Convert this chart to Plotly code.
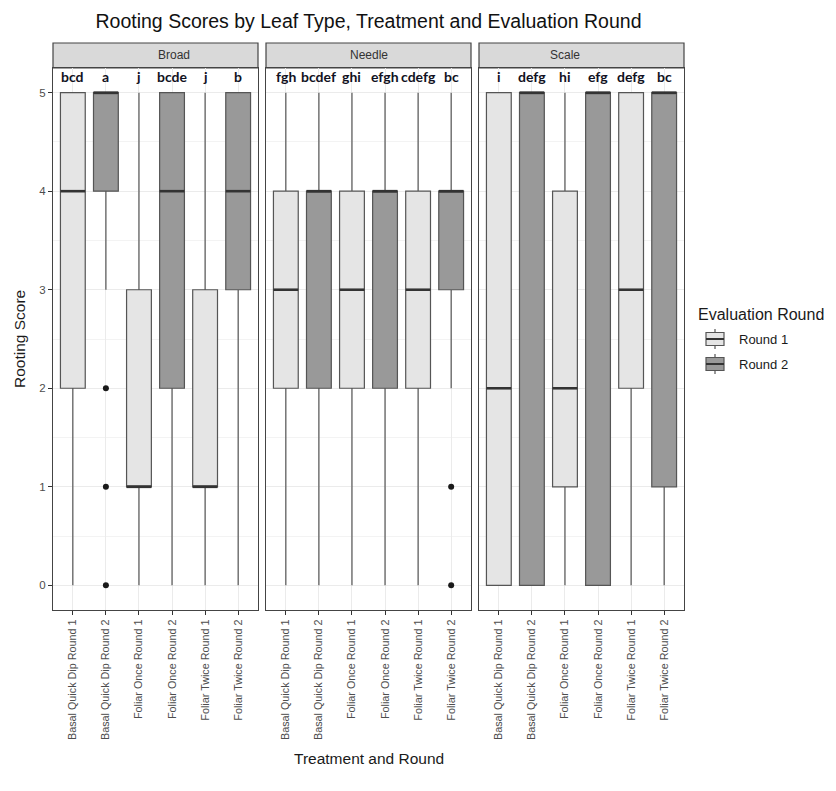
import plotly.graph_objects as go

# ---------------- data ----------------
categories = ["Basal Quick Dip Round 1", "Basal Quick Dip Round 2",
              "Foliar Once Round 1", "Foliar Once Round 2",
              "Foliar Twice Round 1", "Foliar Twice Round 2"]
rounds = ["Round 1", "Round 2", "Round 1", "Round 2", "Round 1", "Round 2"]
round_levels = ["Round 1", "Round 2"]
leaf_types = ["Broad", "Needle", "Scale"]

broad_lower = [0, 3, 0, 0, 0, 0]
broad_q1 = [2, 4, 1, 2, 1, 3]
broad_median = [4, 5, 1, 4, 1, 4]
broad_q3 = [5, 5, 3, 5, 3, 5]
broad_upper = [5, 5, 5, 5, 5, 5]
broad_letters = ["bcd", "a", "j", "bcde", "j", "b"]
broad_outliers = {1: [2, 1, 0]}

needle_lower = [0, 0, 0, 0, 0, 2]
needle_q1 = [2, 2, 2, 2, 2, 3]
needle_median = [3, 4, 3, 4, 3, 4]
needle_q3 = [4, 4, 4, 4, 4, 4]
needle_upper = [5, 5, 5, 5, 5, 5]
needle_letters = ["fgh", "bcdef", "ghi", "efgh", "cdefg", "bc"]
needle_outliers = {5: [1, 0]}

scale_lower = [0, 0, 0, 0, 0, 0]
scale_q1 = [0, 0, 1, 0, 2, 1]
scale_median = [2, 5, 2, 5, 3, 5]
scale_q3 = [5, 5, 4, 5, 5, 5]
scale_upper = [5, 5, 5, 5, 5, 5]
scale_letters = ["i", "defg", "hi", "efg", "defg", "bc"]
scale_outliers = {}

y_ticks = [0, 1, 2, 3, 4, 5]

panels = [
    (broad_lower, broad_q1, broad_median, broad_q3, broad_upper, broad_letters, broad_outliers),
    (needle_lower, needle_q1, needle_median, needle_q3, needle_upper, needle_letters, needle_outliers),
    (scale_lower, scale_q1, scale_median, scale_q3, scale_upper, scale_letters, scale_outliers),
]

fill_colors = {"Round 1": "#e5e5e5", "Round 2": "#999999"}
line_col = "#555555"
box_w = 0.75

# ---------------- layout geometry ----------------
W, H = 836, 791
ml, mr, mt, mb = 45, 160, 35, 189
pw = W - ml - mr
ph = H - mt - mb
strip_h = 25
ytop = (ph - strip_h) / ph
px_panels = [(0, 205), (213, 418), (426, 631)]
domains = [[a / pw, b / pw] for a, b in px_panels]


def px_x(x):
    return (x - ml) / pw


def px_y(y):
    return 1 - (y - mt) / ph


fig = go.Figure()
positions = list(range(1, len(categories) + 1))
shapes = []
annotations = []

for p, (lo, q1, med, q3, up, letters, outl) in enumerate(panels):
    ax = "" if p == 0 else str(p + 1)
    for rnd in round_levels:
        idx = [i for i, r in enumerate(rounds) if r == rnd]
        fig.add_trace(go.Box(
            x=[positions[i] for i in idx],
            q1=[q1[i] for i in idx], median=[med[i] for i in idx], q3=[q3[i] for i in idx],
            lowerfence=[lo[i] for i in idx], upperfence=[up[i] for i in idx],
            width=box_w, whiskerwidth=0,
            fillcolor=fill_colors[rnd], line=dict(color=line_col, width=1.2),
            name=rnd, showlegend=False,
            xaxis="x" + ax, yaxis="y" + ax, hoverinfo="skip",
        ))
    # thick median lines
    for i in range(len(categories)):
        shapes.append(dict(type="line", xref="x" + ax, yref="y" + ax,
                           x0=positions[i] - box_w / 2, x1=positions[i] + box_w / 2,
                           y0=med[i], y1=med[i], line=dict(color="#333333", width=2.6)))
    # outliers
    ox, oy = [], []
    for i, vals in outl.items():
        for v in vals:
            ox.append(positions[i])
            oy.append(v)
    if ox:
        fig.add_trace(go.Scatter(x=ox, y=oy, mode="markers",
                                 marker=dict(color="#1a1a1a", size=6),
                                 showlegend=False, xaxis="x" + ax, yaxis="y" + ax,
                                 hoverinfo="skip"))
    # letters
    for i, lt in enumerate(letters):
        annotations.append(dict(x=positions[i], y=5.16, xref="x" + ax, yref="y" + ax,
                                text="<b>%s</b>" % lt, showarrow=False,
                                font=dict(family="Lato", size=14, color="#111122"),
                                yanchor="middle"))
    # strip
    shapes.append(dict(type="rect", xref="paper", yref="paper",
                       x0=domains[p][0], x1=domains[p][1], y0=ytop, y1=1,
                       fillcolor="#d9d9d9", line=dict(color="#444444", width=1.2), layer="below"))
    annotations.append(dict(x=(domains[p][0] + domains[p][1]) / 2, y=(ytop + 1) / 2,
                            xref="paper", yref="paper", text=leaf_types[p], showarrow=False,
                            font=dict(family="Liberation Sans", size=12, color="#333333"),
                            yanchor="middle"))

    xaxis = dict(domain=domains[p], range=[0.4, 6.6], anchor="y" + ax,
                 tickmode="array", tickvals=positions, ticktext=categories, tickangle=-90,
                 tickfont=dict(family="Liberation Sans", size=10.8, color="#4d4d4d"),
                 ticks="outside", ticklen=4, tickcolor="#333333",
                 showgrid=True, gridcolor="#ebebeb", gridwidth=1,
                 showline=True, mirror=True, linecolor="#444444", linewidth=1.2,
                 zeroline=False, fixedrange=True)
    yaxis = dict(domain=[0, ytop], range=[-0.25, 5.25], anchor="x" + ax,
                 tickmode="array", tickvals=y_ticks, ticktext=[str(t) for t in y_ticks],
                 showticklabels=(p == 0),
                 tickfont=dict(family="Liberation Sans", size=11.5, color="#4d4d4d"),
                 ticks="outside" if p == 0 else "", ticklen=4, tickcolor="#333333",
                 showgrid=True, gridcolor="#ebebeb", gridwidth=1,
                 minor=dict(dtick=0.5, tick0=0, showgrid=True, gridcolor="#f3f3f3", gridwidth=1, ticks=""),
                 showline=True, mirror=True, linecolor="#444444", linewidth=1.2,
                 zeroline=False, fixedrange=True)
    if p > 0:
        yaxis["matches"] = "y"
    fig.layout["xaxis" + ax] = xaxis
    fig.layout["yaxis" + ax] = yaxis

# axis titles
annotations.append(dict(x=0.5, y=px_y(750), xref="paper", yref="paper",
                        text="Treatment and Round", showarrow=False,
                        font=dict(family="Liberation Sans", size=15.5, color="#1a1a1a"),
                        yanchor="middle"))
annotations.append(dict(x=px_x(11), y=ytop / 2, xref="paper", yref="paper",
                        text="Rooting Score", showarrow=False, textangle=-90,
                        font=dict(family="Liberation Sans", size=15.5, color="#1a1a1a"),
                        xanchor="center", yanchor="middle"))

# legend (drawn as key glyphs + text)
annotations.append(dict(x=px_x(688), y=px_y(306), xref="paper", yref="paper",
                        text="Evaluation Round", showarrow=False, xanchor="left", yanchor="middle",
                        font=dict(family="Liberation Sans", size=16, color="#1a1a1a")))
for k, rnd in enumerate(round_levels):
    cy = 331 + 25 * k
    x0, x1 = 698, 716
    shapes.append(dict(type="line", xref="paper", yref="paper",
                       x0=px_x((x0 + x1) / 2), x1=px_x((x0 + x1) / 2), y0=px_y(cy - 10), y1=px_y(cy + 10),
                       line=dict(color=line_col, width=1.2)))
    shapes.append(dict(type="rect", xref="paper", yref="paper",
                       x0=px_x(x0), x1=px_x(x1), y0=px_y(cy - 6.5), y1=px_y(cy + 6.5),
                       fillcolor=fill_colors[rnd], line=dict(color=line_col, width=1.2)))
    shapes.append(dict(type="line", xref="paper", yref="paper",
                       x0=px_x(x0), x1=px_x(x1), y0=px_y(cy), y1=px_y(cy),
                       line=dict(color="#333333", width=2)))
    annotations.append(dict(x=px_x(729), y=px_y(cy), xref="paper", yref="paper",
                            text=rnd, showarrow=False, xanchor="left", yanchor="middle",
                            font=dict(family="Liberation Sans", size=13, color="#1a1a1a")))

fig.update_layout(
    width=W, height=H,
    margin=dict(l=ml, r=mr, t=mt, b=mb),
    paper_bgcolor="white", plot_bgcolor="white",
    boxmode="overlay", showlegend=False,
    title=dict(text="Rooting Scores by Leaf Type, Treatment and Evaluation Round",
               x=(ml + pw / 2) / W, xanchor="center", y=1 - 13 / H, yanchor="middle",
               font=dict(family="Liberation Sans", size=19.5, color="#111111")),
    shapes=shapes, annotations=annotations,
)

fig.write_html("out.html")
